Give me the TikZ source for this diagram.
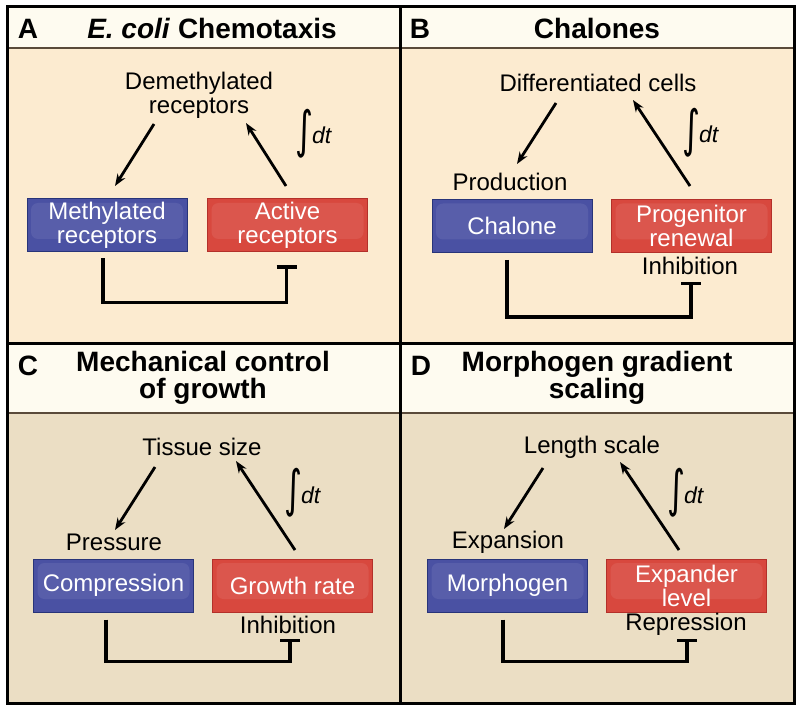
\documentclass[tikz,border=0pt]{standalone}
\usepackage{fontspec}
\setmainfont{Liberation Sans}
\newfontfamily\symfont{DejaVu Sans}
\usetikzlibrary{arrows.meta,calc}

\definecolor{boxblue}{HTML}{4A51A3}
\definecolor{boxblueline}{HTML}{283479}
\definecolor{boxred}{HTML}{D8483E}
\definecolor{boxredline}{HTML}{B3302A}
\definecolor{bgtop}{HTML}{FCEBD0}
\definecolor{bgbot}{HTML}{EBDEC4}
\definecolor{hdr}{HTML}{FEFBF0}
\definecolor{hdrline}{HTML}{5A4A3A}

\newcommand{\intdt}{\raisebox{-14pt}{\resizebox*{18pt}{49pt}{\raisebox{\depth}{\symfont ∫}}}\kern-1pt\textit{dt}}

\begin{document}
\begin{tikzpicture}
        [x=1pt,y=-1pt,
         every node/.style={font=\fontsize{24}{24}\selectfont,inner sep=0},
         lbl/.style={align=center},
         title/.style={font=\fontsize{28}{27}\selectfont\bfseries,align=center},
         gloss/.style={path picture={\fill[white,opacity=0.08,rounded corners=7pt]
            ([shift={(4pt,-4pt)}]path picture bounding box.north west) rectangle
            ([shift={(-4pt,13pt)}]path picture bounding box.south east);}},
         mbox/.style={draw=boxblueline,line width=1pt,fill=boxblue,text=white,align=center,
            minimum width=160,minimum height=53,gloss},
         abox/.style={draw=boxredline,line width=1pt,fill=boxred,text=white,align=center,
            minimum width=160,minimum height=53,gloss},
         integ/.style={font=\fontsize{23}{24}\selectfont,anchor=base west},
         arr/.style={line width=2.8pt,-{Stealth[length=12pt,width=9pt]}},
         inhib/.style={line width=3.2pt,-{Bar[width=20pt]}}]

        \useasboundingbox (0,0) rectangle (800,711);

        % panels
        \fill[bgtop] (7,48) rectangle (794,343);
        \fill[bgbot] (7,413) rectangle (794,703);
        \fill[hdr] (7,7) rectangle (794,48);
        \fill[hdr] (7,344) rectangle (794,413);
        \draw[hdrline,line width=1.5pt] (7,48) -- (794,48);
        \draw[hdrline,line width=1.5pt] (7,413) -- (794,413);
        \draw[line width=2.5pt] (400.5,7) -- (400.5,703);
        \draw[line width=2.5pt] (7,343.5) -- (794,343.5);
        \draw[line width=3pt] (7,7) rectangle (794,703);

        % A
        \node[title] (hA) at (28,29) {A};
        \node[title] (tA) at (212,28) {\textit{E. coli} Chemotaxis};
        \node[lbl] (dmA) at (199,95) {Demethylated\\receptors};
        \node[mbox] (mA) at (107,225.5) {Methylated\\receptors};
        \node[abox] (aA) at (287.5,225.5) {Active\\receptors};
        \node[integ] (iA) at (295,144) {\intdt};
        \coordinate (a1A) at (154,124);
        \coordinate (b1A) at (115,186);
        \coordinate (a2A) at (286,186);
        \coordinate (b2A) at (246,123);
        \draw[arr] (a1A) -- (b1A);
        \draw[arr] (a2A) -- (b2A);
        \draw[inhib] ($(mA.south)+(-4,6)$) -- ++(0,44) -| ($(aA.south)+(-1,13)$);

        % B
        \node[title] (hB) at (420,29) {B};
        \node[title] (tB) at (597,28) {Chalones};
        \node[lbl] (dcB) at (598,83) {Differentiated cells};
        \node[lbl] (pB) at (510,182) {Production};
        \node[mbox] (mB) at (512,226) {Chalone};
        \node[abox] (aB) at (691.5,226) {Progenitor\\renewal};
        \node[lbl] (nB) at (690,266) {Inhibition};
        \node[integ] (iB) at (682,143) {\intdt};
        \coordinate (a1B) at (556,103);
        \coordinate (b1B) at (517,164);
        \coordinate (a2B) at (690,186);
        \coordinate (b2B) at (633,100);
        \draw[arr] (a1B) -- (b1B);
        \draw[arr] (a2B) -- (b2B);
        \draw[inhib] ($(mB.south)+(-5,7)$) -- ++(0,57) -| ($(aB.south)+(-0.5,29)$);

        % C
        \node[title] (hC) at (28,366) {C};
        \node[title] (tC) at (203,377.5) {Mechanical control\\of growth};
        \node[lbl] (tsC) at (202,447) {Tissue size};
        \node[lbl] (pC) at (114,542) {Pressure};
        \node[mbox] (mC) at (113.5,585.5) {Compression};
        \node[abox] (aC) at (292.5,585.5) {Growth rate};
        \node[lbl] (nC) at (288,625) {Inhibition};
        \node[integ] (iC) at (284,503) {\intdt};
        \coordinate (a1C) at (155,467);
        \coordinate (b1C) at (115,530);
        \coordinate (a2C) at (295,550);
        \coordinate (b2C) at (236,461);
        \draw[arr] (a1C) -- (b1C);
        \draw[arr] (a2C) -- (b2C);
        \draw[inhib] ($(mC.south)+(-7.5,7)$) -- ++(0,42) -| ($(aC.south)+(-2.5,26)$);

        % D
        \node[title] (hD) at (421,366) {D};
        \node[title] (tD) at (597,377.5) {Morphogen gradient\\scaling};
        \node[lbl] (lsD) at (592,447) {Length scale};
        \node[lbl] (eD) at (508,542) {Expansion};
        \node[mbox] (mD) at (507.5,585.5) {Morphogen};
        \node[abox] (aD) at (686.5,585.5) {Expander\\level};
        \node[lbl] (rD) at (686,624) {Repression};
        \node[integ] (iD) at (667,503) {\intdt};
        \coordinate (a1D) at (543,468);
        \coordinate (b1D) at (504,529);
        \coordinate (a2D) at (679,550);
        \coordinate (b2D) at (620,462);
        \draw[arr] (a1D) -- (b1D);
        \draw[arr] (a2D) -- (b2D);
        \draw[inhib] ($(mD.south)+(-4.5,7)$) -- ++(0,42) -| ($(aD.south)+(0.5,26)$);
      \end{tikzpicture}
\end{document}
